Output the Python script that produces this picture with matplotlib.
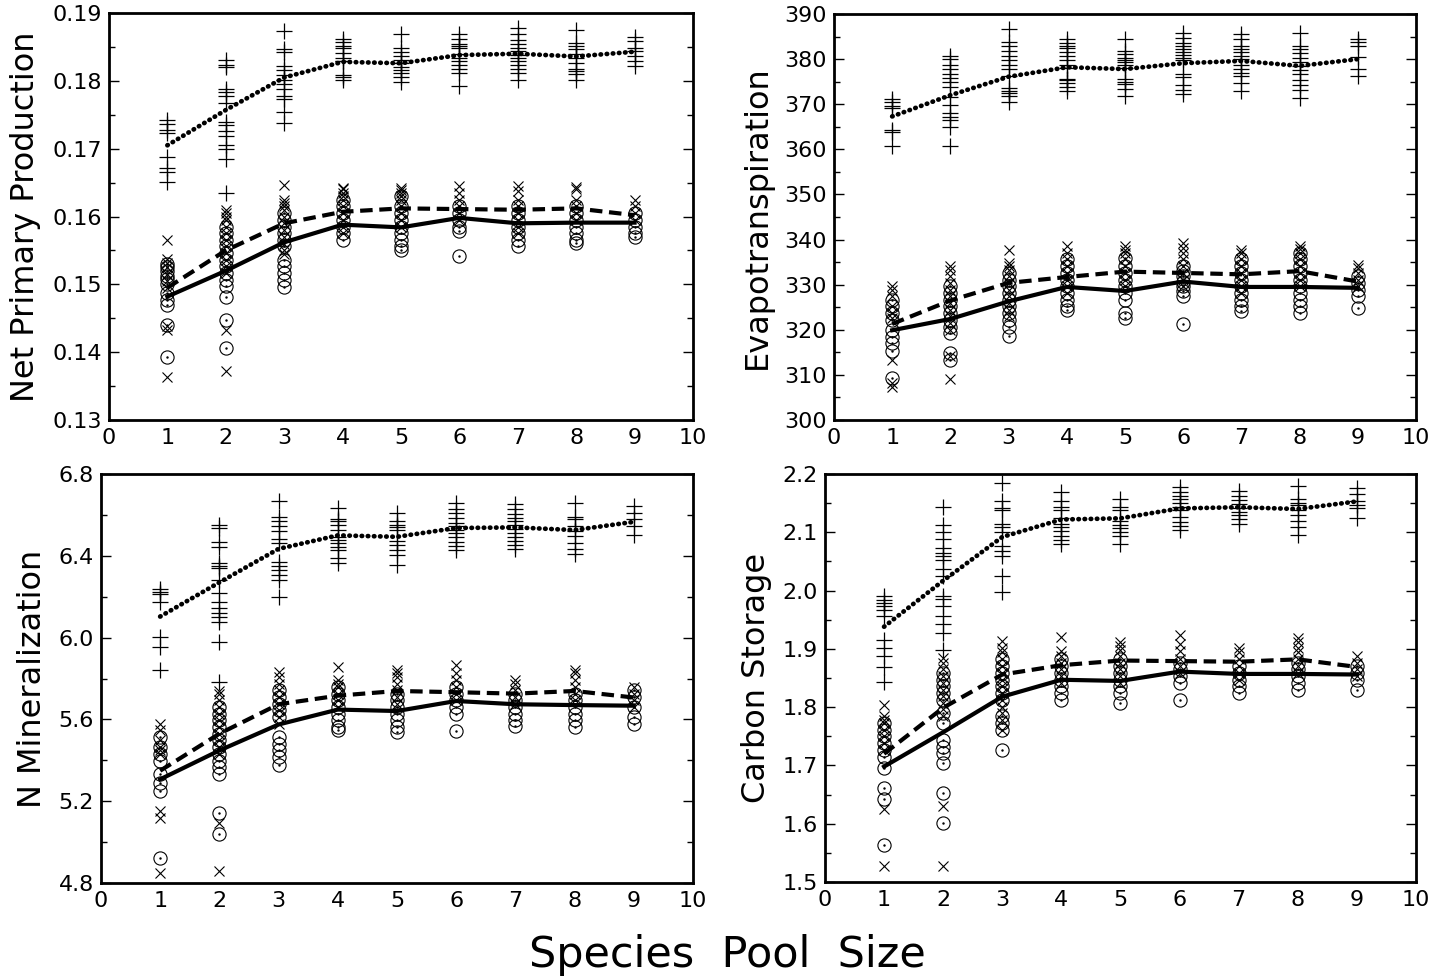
import numpy as np
import matplotlib
matplotlib.use("Agg")
import matplotlib.pyplot as plt
from matplotlib.ticker import MultipleLocator, FormatStrFormatter

plt.rcParams['font.family'] = ['Liberation Sans Narrow', 'DejaVu Sans']

pool = [1, 2, 3, 4, 5, 6, 7, 8, 9]

# ---- Net Primary Production
npp_plus = [
    [0.1743, 0.1737, 0.1728, 0.1723, 0.1688, 0.1672, 0.1665, 0.1651],
    [0.1831, 0.1824, 0.1821, 0.1788, 0.1784, 0.1778, 0.1768, 0.1739, 0.1735, 0.1726, 0.1718, 0.1706, 0.1699, 0.1685, 0.1634],
    [0.1873, 0.1847, 0.1843, 0.1822, 0.1816, 0.1809, 0.1802, 0.1795, 0.1788, 0.1778, 0.1773, 0.1754, 0.1738],
    [0.1862, 0.1858, 0.1852, 0.1848, 0.1841, 0.1834, 0.1830, 0.1829, 0.1808, 0.1805, 0.1801],
    [0.1869, 0.1848, 0.1842, 0.1836, 0.1831, 0.1826, 0.1820, 0.1816, 0.1812, 0.1806, 0.1799],
    [0.1869, 0.1861, 0.1855, 0.1851, 0.1848, 0.1840, 0.1834, 0.1830, 0.1823, 0.1817, 0.1811, 0.1793],
    [0.1878, 0.1869, 0.1860, 0.1855, 0.1849, 0.1844, 0.1838, 0.1834, 0.1829, 0.1824, 0.1818, 0.1811, 0.1802],
    [0.1875, 0.1856, 0.1851, 0.1847, 0.1840, 0.1834, 0.1826, 0.1818, 0.1814, 0.1810, 0.1802],
    [0.1864, 0.1859, 0.1848, 0.1844, 0.1836, 0.1830, 0.1822],
]
npp_cross = [
    [0.1566, 0.1538, 0.1532, 0.1525, 0.1515, 0.1505, 0.1495, 0.1438, 0.1432, 0.1364],
    [0.1610, 0.1605, 0.1600, 0.1595, 0.1585, 0.1576, 0.1566, 0.1556, 0.1546, 0.1536, 0.1527, 0.1517, 0.1433, 0.1373],
    [0.1647, 0.1625, 0.1620, 0.1615, 0.1610, 0.1600, 0.1590, 0.1580, 0.1570, 0.1560, 0.1550, 0.1545],
    [0.1642, 0.1640, 0.1635, 0.1630, 0.1625, 0.1615, 0.1605, 0.1595, 0.1585, 0.1576],
    [0.1642, 0.1639, 0.1635, 0.1630, 0.1625, 0.1615, 0.1605, 0.1595, 0.1585],
    [0.1645, 0.1635, 0.1625, 0.1615, 0.1605, 0.1595],
    [0.1645, 0.1637, 0.1625, 0.1615, 0.1605, 0.1595, 0.1585, 0.1575],
    [0.1643, 0.1640, 0.1625, 0.1615, 0.1605, 0.1595],
    [0.1625, 0.1615, 0.1605, 0.1595],
]
npp_circ = [
    [0.1530, 0.1525, 0.1520, 0.1512, 0.1508, 0.1500, 0.1487, 0.1477, 0.1470, 0.1440, 0.1393],
    [0.1585, 0.1576, 0.1566, 0.1556, 0.1546, 0.1536, 0.1527, 0.1517, 0.1507, 0.1497, 0.1482, 0.1447, 0.1406],
    [0.1605, 0.1595, 0.1585, 0.1576, 0.1566, 0.1556, 0.1536, 0.1527, 0.1517, 0.1507, 0.1496],
    [0.1625, 0.1615, 0.1605, 0.1595, 0.1585, 0.1576, 0.1566],
    [0.1630, 0.1615, 0.1605, 0.1595, 0.1585, 0.1576, 0.1566, 0.1556, 0.1551],
    [0.1615, 0.1605, 0.1595, 0.1585, 0.1578, 0.1542],
    [0.1615, 0.1605, 0.1595, 0.1585, 0.1576, 0.1566, 0.1556],
    [0.1615, 0.1605, 0.1595, 0.1585, 0.1576, 0.1566, 0.1561],
    [0.1605, 0.1595, 0.1585, 0.1576, 0.1570],
]
npp_mean_plus = [0.1705, 0.1757, 0.1805, 0.1828, 0.1826, 0.1838, 0.1840, 0.1836, 0.1843]
npp_mean_cross = [0.1495, 0.1550, 0.1590, 0.1607, 0.1612, 0.1611, 0.1610, 0.1612, 0.1602]
npp_mean_circ = [0.1482, 0.1520, 0.1562, 0.1588, 0.1584, 0.1598, 0.1590, 0.1591, 0.1591]

# ---- Evapotranspiration
et_plus = [
    [371.1, 370.4, 369.6, 369.2, 364.4, 363.8, 360.7],
    [380.7, 380.0, 378.8, 377.9, 376.7, 375.9, 375.0, 373.9, 371.7, 369.9, 368.1, 367.1, 366.5, 364.9, 360.7],
    [386.7, 383.7, 383.0, 381.8, 380.7, 379.7, 378.7, 377.8, 376.3, 373.6, 372.9, 372.4, 371.9, 370.4],
    [384.4, 383.6, 383.0, 382.4, 381.5, 380.6, 379.9, 378.8, 378.1, 375.7, 375.4, 374.7, 373.9, 372.9],
    [384.4, 381.8, 381.2, 380.3, 379.9, 379.3, 378.7, 378.1, 375.6, 375.0, 374.4, 373.3, 371.9],
    [385.9, 384.6, 383.6, 383.0, 382.2, 381.5, 380.9, 380.3, 379.7, 376.6, 376.1, 374.2, 373.2, 372.3],
    [385.5, 384.4, 383.0, 382.2, 381.5, 380.7, 380.0, 378.7, 377.8, 377.0, 376.3, 374.7, 373.0],
    [385.9, 383.0, 382.2, 381.3, 380.3, 379.4, 378.5, 377.6, 376.6, 375.3, 374.2, 373.2, 371.3],
    [384.4, 383.7, 383.0, 380.4, 377.9, 376.3],
]
et_cross = [
    [329.6, 328.9, 327.4, 325.2, 323.7, 322.6, 313.3, 308.1, 307.4],
    [334.1, 333.3, 331.9, 330.4, 328.9, 327.4, 325.9, 324.4, 323.0, 321.5, 320.0, 314.1, 309.2],
    [337.6, 334.8, 334.1, 333.3, 331.9, 330.4, 328.9, 327.4, 325.9, 324.4, 323.0],
    [338.5, 337.0, 335.6, 334.1, 332.6, 331.1, 329.6, 328.1],
    [338.5, 337.8, 337.0, 335.6, 334.1, 332.6, 331.1, 329.6],
    [339.3, 338.1, 337.0, 335.6, 334.1, 332.6, 331.1, 329.6],
    [337.8, 337.0, 335.6, 334.1, 332.6, 331.1, 329.6, 328.1],
    [338.5, 337.9, 337.0, 335.6, 334.1, 332.6, 331.1, 329.6],
    [334.4, 333.7, 332.6, 331.1, 329.6],
]
et_circ = [
    [326.7, 325.2, 323.7, 322.2, 320.0, 318.5, 317.0, 315.2, 309.3],
    [329.6, 328.1, 326.7, 325.2, 323.7, 322.2, 320.7, 319.3, 314.8, 313.3],
    [332.6, 331.1, 329.6, 328.1, 326.7, 325.2, 323.7, 322.2, 320.7, 318.7],
    [335.6, 334.1, 332.6, 331.1, 329.6, 328.1, 326.7, 325.2, 324.4],
    [335.9, 334.1, 332.6, 331.1, 329.6, 328.1, 326.7, 323.7, 322.6],
    [334.1, 333.0, 331.9, 330.7, 329.6, 328.5, 327.4, 321.3],
    [335.6, 334.1, 332.6, 331.1, 329.6, 328.1, 326.7, 325.2, 324.1],
    [337.0, 335.6, 334.1, 332.6, 331.1, 329.6, 328.1, 326.7, 325.2, 323.7],
    [331.9, 330.4, 328.9, 327.4, 324.8],
]
et_mean_plus = [367.3, 372.0, 376.1, 378.2, 377.8, 379.1, 379.6, 378.5, 380.0]
et_mean_cross = [321.3, 326.5, 330.4, 331.7, 332.9, 332.6, 332.3, 333.0, 330.7]
et_mean_circ = [319.9, 322.4, 326.3, 329.5, 328.6, 330.7, 329.5, 329.5, 329.3]

# ---- N Mineralization
nm_plus = [
    [6.238, 6.225, 6.215, 6.172, 6.005, 5.952, 5.844],
    [6.552, 6.536, 6.467, 6.441, 6.366, 6.349, 6.339, 6.284, 6.218, 6.172, 6.146, 6.120, 6.100, 6.074, 5.979, 5.785],
    [6.667, 6.589, 6.569, 6.546, 6.523, 6.480, 6.464, 6.372, 6.352, 6.333, 6.307, 6.280, 6.198],
    [6.634, 6.579, 6.569, 6.552, 6.526, 6.493, 6.477, 6.464, 6.444, 6.428, 6.389, 6.366],
    [6.611, 6.569, 6.552, 6.539, 6.526, 6.474, 6.454, 6.428, 6.405, 6.356],
    [6.657, 6.631, 6.611, 6.585, 6.562, 6.546, 6.526, 6.510, 6.493, 6.470, 6.448, 6.428],
    [6.651, 6.628, 6.605, 6.585, 6.569, 6.552, 6.530, 6.513, 6.493, 6.474, 6.454, 6.431],
    [6.657, 6.592, 6.579, 6.546, 6.520, 6.497, 6.464, 6.431, 6.408],
    [6.644, 6.611, 6.579, 6.546, 6.500],
]
nm_cross = [
    [5.579, 5.546, 5.497, 5.464, 5.448, 5.431, 5.152, 5.116, 4.848],
    [5.739, 5.726, 5.693, 5.661, 5.628, 5.595, 5.562, 5.530, 5.497, 5.464, 5.431, 5.093, 4.861],
    [5.834, 5.808, 5.775, 5.743, 5.710, 5.677, 5.644, 5.611, 5.579],
    [5.857, 5.792, 5.775, 5.759, 5.726, 5.693, 5.661],
    [5.841, 5.825, 5.808, 5.775, 5.743, 5.710, 5.677],
    [5.866, 5.825, 5.792, 5.759, 5.726, 5.693],
    [5.795, 5.775, 5.743, 5.710, 5.677],
    [5.844, 5.825, 5.792, 5.759, 5.726, 5.693],
    [5.759, 5.726, 5.693, 5.661],
]
nm_circ = [
    [5.513, 5.464, 5.431, 5.398, 5.333, 5.287, 5.251, 4.923],
    [5.661, 5.628, 5.595, 5.562, 5.530, 5.497, 5.464, 5.431, 5.398, 5.366, 5.333, 5.143, 5.038],
    [5.743, 5.710, 5.677, 5.644, 5.611, 5.513, 5.480, 5.448, 5.415, 5.379],
    [5.759, 5.726, 5.693, 5.661, 5.628, 5.595, 5.562, 5.546],
    [5.726, 5.693, 5.661, 5.628, 5.595, 5.562, 5.536],
    [5.759, 5.726, 5.693, 5.661, 5.628, 5.543],
    [5.726, 5.693, 5.661, 5.628, 5.595, 5.570],
    [5.726, 5.693, 5.661, 5.628, 5.595, 5.562],
    [5.743, 5.710, 5.661, 5.611, 5.579],
]
nm_mean_plus = [6.103, 6.270, 6.434, 6.500, 6.493, 6.536, 6.539, 6.526, 6.566]
nm_mean_cross = [5.349, 5.530, 5.674, 5.716, 5.739, 5.733, 5.726, 5.739, 5.707]
nm_mean_circ = [5.307, 5.448, 5.575, 5.648, 5.641, 5.690, 5.674, 5.670, 5.667]

# ---- Carbon Storage
cs_plus = [
    [1.990, 1.984, 1.979, 1.974, 1.967, 1.957, 1.915, 1.902, 1.888, 1.869, 1.843],
    [2.144, 2.112, 2.101, 2.089, 2.073, 2.064, 2.059, 2.052, 2.037, 2.025, 1.990, 1.986, 1.974, 1.957, 1.942, 1.928, 1.898],
    [2.184, 2.154, 2.142, 2.139, 2.115, 2.109, 2.100, 2.077, 2.068, 2.060, 2.025, 1.998],
    [2.170, 2.154, 2.144, 2.138, 2.124, 2.115, 2.109, 2.102, 2.094, 2.087, 2.080],
    [2.158, 2.144, 2.138, 2.120, 2.113, 2.108, 2.101, 2.093, 2.080],
    [2.178, 2.170, 2.163, 2.158, 2.151, 2.144, 2.139, 2.126, 2.117, 2.110, 2.104],
    [2.171, 2.163, 2.156, 2.149, 2.142, 2.135, 2.129, 2.123, 2.115],
    [2.180, 2.158, 2.151, 2.146, 2.138, 2.129, 2.120, 2.109, 2.096],
    [2.176, 2.166, 2.153, 2.147, 2.141, 2.124],
]
cs_cross = [
    [1.804, 1.784, 1.778, 1.773, 1.761, 1.750, 1.738, 1.727, 1.625, 1.527],
    [1.884, 1.876, 1.865, 1.853, 1.842, 1.830, 1.819, 1.807, 1.796, 1.784, 1.631, 1.527],
    [1.913, 1.902, 1.894, 1.882, 1.871, 1.859, 1.847, 1.836, 1.824, 1.813, 1.801, 1.790, 1.778, 1.761],
    [1.921, 1.897, 1.888, 1.876, 1.865, 1.853, 1.842],
    [1.911, 1.905, 1.898, 1.888, 1.876, 1.865, 1.853, 1.842],
    [1.923, 1.908, 1.897, 1.882, 1.871, 1.859],
    [1.902, 1.894, 1.882, 1.871, 1.859, 1.847],
    [1.918, 1.911, 1.902, 1.894, 1.882, 1.871, 1.859],
    [1.888, 1.876, 1.865, 1.853],
]
cs_circ = [
    [1.773, 1.761, 1.750, 1.738, 1.727, 1.715, 1.695, 1.662, 1.643, 1.564],
    [1.859, 1.847, 1.836, 1.824, 1.813, 1.790, 1.773, 1.744, 1.732, 1.721, 1.704, 1.652, 1.601],
    [1.882, 1.871, 1.859, 1.847, 1.836, 1.824, 1.813, 1.784, 1.773, 1.761, 1.727],
    [1.882, 1.871, 1.859, 1.847, 1.836, 1.824, 1.813],
    [1.882, 1.871, 1.859, 1.847, 1.836, 1.824, 1.807],
    [1.876, 1.865, 1.853, 1.842, 1.812],
    [1.871, 1.859, 1.847, 1.836, 1.824],
    [1.876, 1.865, 1.853, 1.842, 1.830],
    [1.871, 1.859, 1.847, 1.830],
]
cs_mean_plus = [1.938, 2.017, 2.092, 2.122, 2.124, 2.141, 2.143, 2.140, 2.153]
cs_mean_cross = [1.720, 1.799, 1.856, 1.872, 1.880, 1.879, 1.878, 1.882, 1.869]
cs_mean_circ = [1.698, 1.757, 1.818, 1.847, 1.845, 1.861, 1.857, 1.857, 1.856]


def flatten(groups):
    xs, ys = [], []
    for x, vals in zip(pool, groups):
        xs += [x] * len(vals)
        ys += vals
    return xs, ys


def draw_panel(ax, plus, cross, circ, m_plus, m_cross, m_circ, ylim, step, fmt, ylabel):
    xs, ys = flatten(plus)
    ax.plot(xs, ys, ls='none', marker='+', ms=11, mew=0.9, color='black')
    xs, ys = flatten(cross)
    ax.plot(xs, ys, ls='none', marker='x', ms=7, mew=0.8, color='black')
    xs, ys = flatten(circ)
    ax.plot(xs, ys, ls='none', marker='o', ms=9.5, mew=0.8, mfc='none', color='black')
    ax.plot(xs, ys, ls='none', marker='.', ms=1.5, color='black')

    ax.plot(pool, m_plus, color='black', lw=3.4, ls=(0, (0.1, 1.2)), dash_capstyle='round')
    ax.plot(pool, m_cross, color='black', lw=3, ls=(0, (3, 1.6)))
    ax.plot(pool, m_circ, color='black', lw=3, ls='-')

    ax.set_xlim(0, 10)
    ax.set_ylim(*ylim)
    ax.xaxis.set_major_locator(MultipleLocator(1))
    ax.yaxis.set_major_locator(MultipleLocator(step))
    ax.yaxis.set_minor_locator(MultipleLocator(step / 2))
    ax.yaxis.set_major_formatter(FormatStrFormatter(fmt))
    ax.tick_params(axis='y', which='both', direction='in', left=True, right=True,
                   labelsize=16, pad=5)
    ax.tick_params(axis='y', which='major', length=7, width=1)
    ax.tick_params(axis='y', which='minor', length=4, width=1)
    ax.tick_params(axis='x', length=0, labelsize=16, pad=6)
    for s in ax.spines.values():
        s.set_linewidth(2)
    ax.set_ylabel(ylabel, fontsize=23, labelpad=8)


fig = plt.figure(figsize=(14.3, 9.8), dpi=100)
ax1 = fig.add_axes([0.0762, 0.5714, 0.4084, 0.4153])
ax2 = fig.add_axes([0.5832, 0.5714, 0.4070, 0.4143])
ax3 = fig.add_axes([0.0706, 0.0990, 0.4140, 0.4173])
ax4 = fig.add_axes([0.5769, 0.1000, 0.4133, 0.4163])

draw_panel(ax1, npp_plus, npp_cross, npp_circ, npp_mean_plus, npp_mean_cross, npp_mean_circ,
           (0.13, 0.19), 0.01, '%.2f', 'Net Primary Production')
draw_panel(ax2, et_plus, et_cross, et_circ, et_mean_plus, et_mean_cross, et_mean_circ,
           (300, 390), 10, '%d', 'Evapotranspiration')
draw_panel(ax3, nm_plus, nm_cross, nm_circ, nm_mean_plus, nm_mean_cross, nm_mean_circ,
           (4.8, 6.8), 0.4, '%.1f', 'N Mineralization')
draw_panel(ax4, cs_plus, cs_cross, cs_circ, cs_mean_plus, cs_mean_cross, cs_mean_circ,
           (1.5, 2.2), 0.1, '%.1f', 'Carbon Storage')

fig.text(0.509, 0.004, 'Species  Pool  Size', ha='center', va='bottom', fontsize=31)

fig.savefig('out.png', dpi=100)
